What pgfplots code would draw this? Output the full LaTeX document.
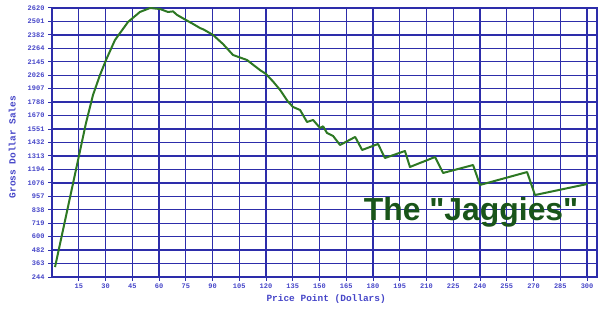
\documentclass[border=0pt]{standalone}
\usepackage{fontspec}
\setmainfont{Liberation Sans}
\newfontfamily\monof{Liberation Mono}
\newfontfamily\jagfont[Ligatures=TeXOff]{Liberation Sans}
\usepackage{pgfplots}
\pgfplotsset{compat=1.18}
\definecolor{gridblue}{RGB}{45,45,170}
\definecolor{labblue}{RGB}{70,70,200}
\definecolor{curvegreen}{RGB}{45,120,35}
\definecolor{textgreen}{RGB}{25,85,25}
\begin{document}
\begin{tikzpicture}[x=1bp,y=1bp]
\useasboundingbox (0,0) rectangle (599,308);
\begin{axis}[
 at={(52bp,31bp)}, anchor=south west,
 scale only axis, width=545bp, height=269bp,
 xmin=0, xmax=305.6, ymin=244, ymax=2620,
 axis line style={gridblue, line width=1.2bp},
 xtick={15,30,45,60,75,90,105,120,135,150,165,180,195,210,225,240,255,270,285,300},
 ytick={244,362.8,481.6,600.4,719.2,838,956.8,1075.6,1194.4,1313.2,1432,1550.8,1669.6,1788.4,1907.2,2026,2144.8,2263.6,2382.4,2501.2,2620},
 yticklabels={244,363,482,600,719,838,957,1076,1194,1313,1432,1551,1670,1788,1907,2026,2145,2264,2382,2501,2620},
 grid=major,
 x grid style={gridblue, line width=1.1bp},
 y grid style={gridblue, line width=1.4bp},
 tick style={gridblue, line width=1bp},
 tick align=outside, major tick length=4bp,
 xtick pos=left, ytick pos=left,
 xticklabel style={font=\monof\bfseries\fontsize{7}{8}\selectfont, text=labblue, yshift=1bp},
 yticklabel style={font=\monof\bfseries\fontsize{7}{8}\selectfont, text=labblue},
 /pgf/number format/assume math mode=true,
 xlabel={Price Point (Dollars)},
 ylabel={Gross Dollar Sales},
 xlabel style={font=\monof\bfseries\fontsize{9.5}{10}\selectfont, text=labblue, at={(axis description cs:0.503,-0.082)}, anchor=center},
 ylabel style={font=\monof\bfseries\fontsize{9.5}{10}\selectfont, text=labblue, at={(axis description cs:-0.073,0.483)}, anchor=center},
 clip=false,
]
\addplot[curvegreen, line width=2bp, line join=round] coordinates {
(1.7,332) (15.1,1313) (19,1600) (23.0,1852) (26.9,2028) (30.3,2161) (35.3,2337)
(42.6,2496) (49.3,2585) (55.0,2620) (60.6,2611) (65.0,2585) (67.9,2590) (70,2560)
(75.1,2514) (79,2480) (83.0,2443) (85,2430) (90.3,2382) (96,2300) (101.5,2205)
(105,2185) (109.3,2161) (116.6,2072) (120,2037) (124,1970) (127.9,1896) (132,1800)
(135.1,1746) (139.1,1719) (143.0,1613) (146.4,1631) (150.3,1560) (152,1575)
(154.2,1516) (157.6,1490) (161.5,1410) (170.0,1481) (173.9,1366) (182.8,1419)
(186.7,1295) (197.9,1357) (200.7,1216) (214.8,1304) (219.3,1163) (236.1,1233)
(240.0,1057) (266.4,1171) (270.8,968) (300.0,1065)
};
\node[text=textgreen, font=\jagfont\bfseries\fontsize{32}{36}\selectfont] at (axis cs:235,818) {The "Jaggies"};
\end{axis}
\end{tikzpicture}
\end{document}
